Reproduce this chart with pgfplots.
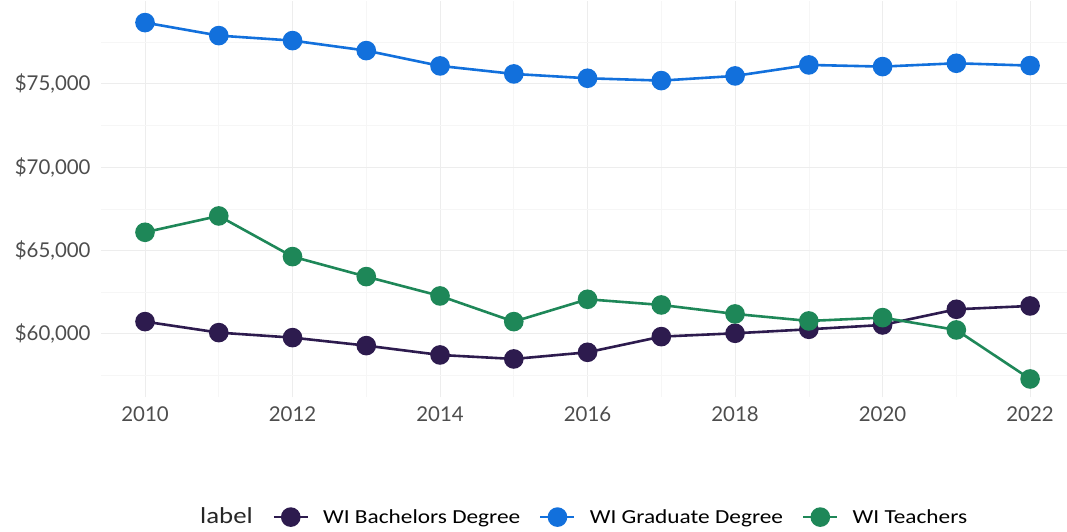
\documentclass[border=0pt]{standalone}
\usepackage{fontspec}
\setmainfont{Lato}
\newfontfamily\legfont[FakeStretch=1.17]{Carlito}
\usepackage{pgfplots}
\pgfplotsset{compat=1.18}
\definecolor{cbach}{RGB}{45,27,78}
\definecolor{cgrad}{RGB}{18,112,220}
\definecolor{cteach}{RGB}{30,135,88}
\definecolor{ctick}{RGB}{77,77,77}
\begin{document}
\begin{tikzpicture}[x=1bp,y=1bp]
\useasboundingbox (0,0) rectangle (1067,532);
\begin{axis}[
  at={(100.75bp,134.7bp)}, anchor=south west,
  scale only axis, width=966.2bp, height=396.7bp,
  xmin=2009.4, xmax=2022.5, ymin=56200, ymax=80000,
  axis line style={draw=none},
  major tick length=0pt, minor tick length=0pt,
  scaled y ticks=false, scaled x ticks=false,
  xtick={2010,2012,...,2022}, minor xtick={2011,2013,...,2021},
  ytick={60000,65000,70000,75000}, minor ytick={57500,62500,67500,72500,77500},
  yticklabels={{\$60,000},{\$65,000},{\$70,000},{\$75,000}},
  xticklabel style={/pgf/number format/1000 sep={}},
  /pgf/number format/assume math mode=true,
  ticklabel style={font=\fontsize{20.5}{22}\selectfont, text=ctick, inner sep=0pt},
  xticklabel shift=9.5bp, yticklabel shift=10bp,
  grid=both,
  major grid style={draw=gray!14, line width=1bp},
  minor grid style={draw=gray!7, line width=0.6bp},
  clip=false,
  legend style={at={(axis description cs:0.1775,-0.302)}, anchor=west, draw=none, fill=none,
    inner xsep=0pt, inner ysep=0pt,
    font=\legfont\fontsize{20}{22}\selectfont,
    nodes={inner sep=0pt},
    /tikz/every odd column/.append style={column sep=14bp},
    /tikz/every even column/.append style={column sep=19bp}},
  legend columns=-1,
  legend image code/.code={\draw[mark repeat=2,mark phase=2,#1] plot coordinates {(0bp,0bp)(17bp,0bp)(34bp,0bp)};},
]
\addplot[cbach, line width=2.6bp, mark=*, mark size=8.5bp] coordinates {
(2010,60740)(2011,60080)(2012,59780)(2013,59300)(2014,58740)(2015,58500)(2016,58900)
(2017,59840)(2018,60040)(2019,60280)(2020,60540)(2021,61480)(2022,61680)};
\addlegendentry{WI Bachelors Degree}
\addplot[cgrad, line width=2.6bp, mark=*, mark size=8.5bp] coordinates {
(2010,78680)(2011,77900)(2012,77600)(2013,77000)(2014,76080)(2015,75600)(2016,75340)
(2017,75200)(2018,75480)(2019,76140)(2020,76040)(2021,76240)(2022,76100)};
\addlegendentry{WI Graduate Degree}
\addplot[cteach, line width=2.6bp, mark=*, mark size=8.5bp] coordinates {
(2010,66100)(2011,67080)(2012,64640)(2013,63440)(2014,62280)(2015,60740)(2016,62080)
(2017,61740)(2018,61200)(2019,60780)(2020,60980)(2021,60240)(2022,57300)};
\addlegendentry{WI Teachers}
\end{axis}
\node[anchor=west, inner sep=0pt, font=\legfont\fontsize{23}{25}\selectfont, text=black!85] at (200,16) {label};
\end{tikzpicture}
\end{document}
